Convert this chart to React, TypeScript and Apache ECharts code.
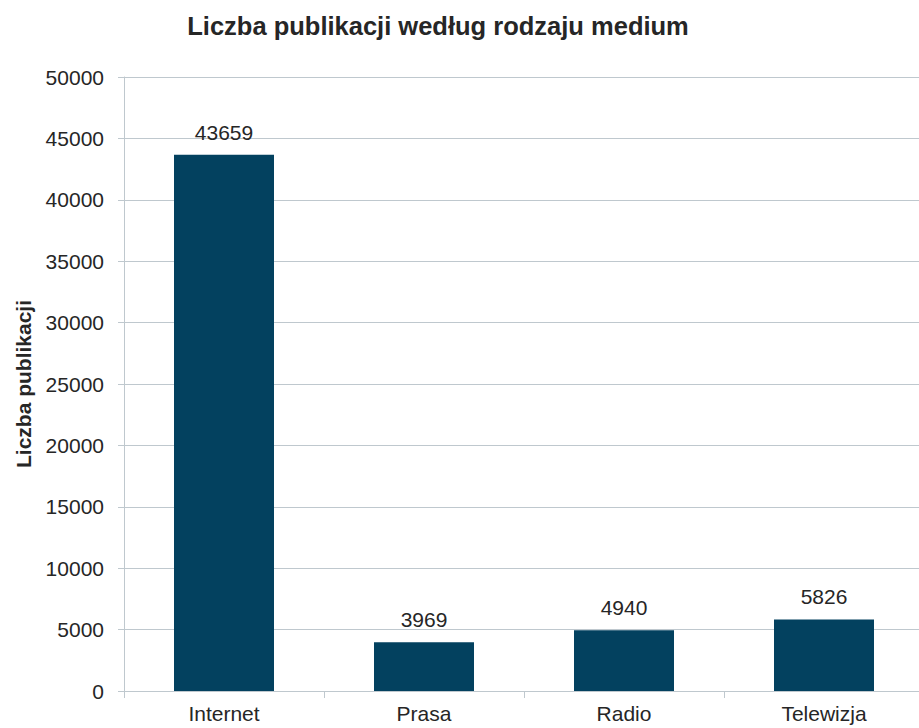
import React, { useEffect, useRef } from "react";
import * as echarts from "echarts";

const categories = ["Internet", "Prasa", "Radio", "Telewizja"];
const values = [43659, 3969, 4940, 5826];
const titleText = "Liczba publikacji według rodzaju medium";
const yAxisName = "Liczba publikacji";

export default function App() {
  const ref = useRef<HTMLDivElement>(null);
  useEffect(() => {
    if (!ref.current) return;
    const chart = echarts.init(ref.current, null, { renderer: "svg" });
    const textColor = "#262626";
    const lineColor = "#BFC8CE";
    const font = "Liberation Sans, Arial, sans-serif";
    chart.setOption({
      animation: false,
      backgroundColor: "#ffffff",
      title: {
        text: titleText,
        left: 433,
        top: 8,
        textAlign: "center",
        textStyle: { fontFamily: font, fontSize: 25.5, fontWeight: "bold", color: textColor },
      },
      grid: { left: 124, right: 6, top: 77, bottom: 37 },
      xAxis: {
        type: "category",
        data: categories,
        axisLine: { show: true, lineStyle: { color: lineColor } },
        axisTick: { show: true, length: 7, lineStyle: { color: lineColor } },
        axisLabel: { fontFamily: font, fontSize: 21, color: textColor, margin: 12 },
      },
      yAxis: {
        type: "value",
        min: 0,
        max: 50000,
        interval: 5000,
        name: yAxisName,
        nameLocation: "middle",
        nameGap: 90,
        nameTextStyle: { fontFamily: font, fontSize: 21, fontWeight: "bold", color: textColor },
        axisLine: { show: true, lineStyle: { color: lineColor } },
        axisTick: { show: true, length: 6, lineStyle: { color: lineColor } },
        splitLine: { show: true, lineStyle: { color: lineColor } },
        axisLabel: { fontFamily: font, fontSize: 21, color: textColor, margin: 20, formatter: (v: number) => String(v) },
      },
      series: [
        {
          type: "bar",
          data: values,
          barWidth: "50%",
          itemStyle: { color: "#03415F" },
          label: {
            show: true,
            position: "top",
            distance: 12,
            fontFamily: font,
            fontSize: 21,
            color: textColor,
          },
        },
      ],
    });
    return () => chart.dispose();
  }, []);
  return (
    <div style={{ width: 919, height: 728, position: "absolute", left: 0, top: 0, overflow: "hidden" }}>
      <div ref={ref} style={{ width: 930, height: 728 }} />
    </div>
  );
}
